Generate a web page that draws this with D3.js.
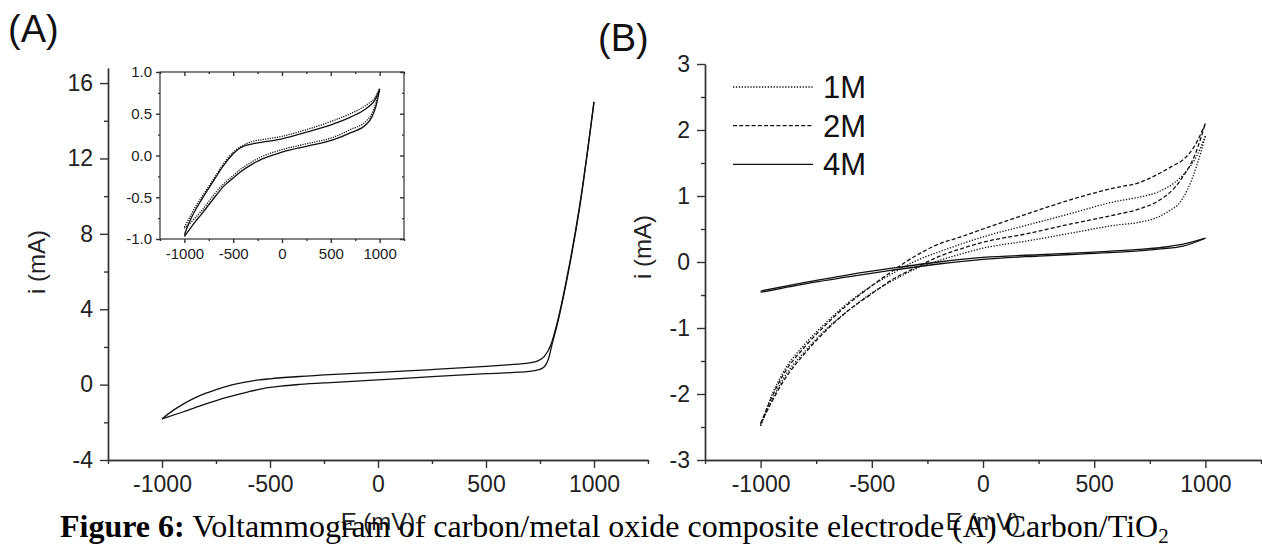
<!DOCTYPE html>
<html>
<head>
<meta charset="utf-8">
<script src="https://cdn.jsdelivr.net/npm/d3@7"></script>
<style>
body { margin: 0; background: #fff; }
svg { display: block; font-family: Arial, "Liberation Sans", sans-serif; }
.axis path, .axis line { stroke: #333; stroke-width: 1.4; }
.axis text { fill: #222; font-size: 23px; font-family: Arial, "Liberation Sans", sans-serif; }
.inset .axis text { font-size: 15px; }
.curve { fill: none; stroke: #111; stroke-width: 1.3; }
</style>
</head>
<body>
<script>
const w = 1262;
const h = 547;

// ---- data ----
// (A) carbon/TiO2, main plot, E in mV, i in mA
const carbonForward = [[-1000,-1.82],[-950,-1.38],[-900,-1.02],[-850,-0.72],[-800,-0.47],[-750,-0.27],[-700,-0.09],[-650,0.05],[-600,0.16],[-550,0.25],[-500,0.31],[-363,0.43],[-200,0.54],[0,0.65],[250,0.8],[500,0.97],[600,1.05],[700,1.15],[740,1.26],[770,1.5],[800,2.1],[830,3.3],[875,5.7],[935,9.6],[1000,15]];
const carbonReverse = [[-1000,-1.82],[-900,-1.44],[-800,-1.04],[-700,-0.68],[-600,-0.38],[-533,-0.21],[-450,-0.08],[-363,0.01],[-200,0.12],[0,0.25],[250,0.42],[500,0.58],[700,0.7],[740,0.78],[770,0.95],[790,1.4],[805,2.1],[830,3.2],[875,5.6],[935,9.5],[1000,15]];

// (A) inset, two cycles
const insetSolidUp = [[-1000,-0.95],[-950,-0.8],[-900,-0.68],[-830,-0.54],[-700,-0.3],[-600,-0.12],[-500,0.02],[-430,0.09],[-300,0.14],[-200,0.16],[0,0.2],[250,0.28],[530,0.38],[700,0.46],[870,0.57],[950,0.66],[1000,0.79]];
const insetSolidDown = [[-1000,-0.97],[-950,-0.89],[-900,-0.81],[-830,-0.71],[-670,-0.47],[-600,-0.37],[-500,-0.27],[-430,-0.2],[-300,-0.1],[-200,-0.04],[0,0.04],[250,0.11],[530,0.19],[700,0.27],[870,0.38],[920,0.46],[960,0.58],[1000,0.79]];
const insetDotUp = [[-1000,-0.86],[-950,-0.75],[-900,-0.64],[-830,-0.51],[-700,-0.28],[-600,-0.1],[-500,0.04],[-430,0.1],[-300,0.17],[-200,0.19],[0,0.23],[250,0.31],[530,0.42],[700,0.5],[870,0.61],[950,0.69],[1000,0.8]];
const insetDotDown = [[-1000,-0.87],[-950,-0.82],[-900,-0.76],[-830,-0.67],[-670,-0.43],[-600,-0.34],[-500,-0.24],[-430,-0.17],[-300,-0.07],[-200,-0.01],[0,0.07],[250,0.14],[530,0.22],[700,0.31],[870,0.42],[920,0.5],[960,0.62],[1000,0.8]];

// (B) three concentrations
const m1Up = [[-1000,-2.48],[-950,-2.02],[-900,-1.68],[-800,-1.24],[-700,-0.9],[-600,-0.6],[-500,-0.36],[-400,-0.16],[-300,0.02],[-200,0.15],[-100,0.27],[0,0.38],[200,0.56],[400,0.74],[600,0.92],[700,0.98],[800,1.08],[860,1.2],[920,1.4],[960,1.6],[1000,1.91]];
const m1Down = [[-1000,-2.48],[-950,-2.1],[-900,-1.78],[-800,-1.35],[-700,-1.0],[-600,-0.72],[-500,-0.47],[-400,-0.27],[-300,-0.1],[-200,0.02],[-100,0.12],[0,0.21],[200,0.32],[400,0.44],[600,0.56],[700,0.6],[800,0.7],[840,0.78],[880,0.88],[920,1.1],[960,1.45],[1000,1.91]];
const m2Up = [[-1000,-2.45],[-950,-2.05],[-900,-1.72],[-800,-1.28],[-700,-0.93],[-600,-0.62],[-500,-0.36],[-400,-0.12],[-300,0.1],[-200,0.27],[-100,0.38],[0,0.5],[200,0.73],[400,0.95],[600,1.13],[700,1.2],[780,1.32],[850,1.45],[900,1.55],[950,1.75],[1000,2.1]];
const m2Down = [[-1000,-2.45],[-950,-2.12],[-900,-1.82],[-800,-1.38],[-700,-1.02],[-600,-0.72],[-500,-0.48],[-400,-0.25],[-300,-0.08],[-200,0.08],[-100,0.2],[0,0.3],[200,0.43],[400,0.58],[600,0.72],[700,0.8],[800,0.95],[860,1.12],[900,1.3],[950,1.6],[1000,2.1]];
const m4Up = [[-1000,-0.44],[-800,-0.31],[-600,-0.19],[-400,-0.09],[-200,0.0],[0,0.07],[250,0.11],[500,0.15],[700,0.19],[800,0.22],[900,0.27],[1000,0.36]];
const m4Down = [[-1000,-0.46],[-800,-0.33],[-600,-0.22],[-400,-0.12],[-200,-0.03],[0,0.04],[250,0.09],[500,0.13],[700,0.17],[800,0.2],[900,0.24],[1000,0.36]];

const legendLabels = ["1M", "2M", "4M"];

// ticks
const xTicks = [-1000, -500, 0, 500, 1000];
const xMinor = [-1250, -750, -250, 250, 750, 1250];
const yTicksA = [-4, 0, 4, 8, 12, 16];
const yMinorA = [-2, 2, 6, 10, 14];
const yTicksInset = [-1, -0.5, 0, 0.5, 1];
const yMinorInset = [-0.75, -0.25, 0.25, 0.75];
const yTicksB = [-3, -2, -1, 0, 1, 2, 3];
const yMinorB = [-2.5, -1.5, -0.5, 0.5, 1.5, 2.5];

const svg = d3.select("body")
              .append("svg")
              .attr("width", w)
              .attr("height", h);

const line = (x, y) => d3.line()
    .x(d => x(d[0]))
    .y(d => y(d[1]))
    .curve(d3.curveMonotoneX);

function leftBottom(x, y, xT, xM, yT, yM, fmt) {
    const x0 = y.range()[0];
    const y0 = x.range()[0];
    svg.append("g").attr("class", "axis")
        .attr("transform", "translate(0," + x0 + ")")
        .call(d3.axisBottom(x).tickValues(xM).tickSize(4).tickSizeOuter(0).tickFormat(""));
    svg.append("g").attr("class", "axis")
        .attr("transform", "translate(0," + x0 + ")")
        .call(d3.axisBottom(x).tickValues(xT).tickSize(8).tickPadding(8).tickSizeOuter(0).tickFormat(d => String(d)));
    svg.append("g").attr("class", "axis")
        .attr("transform", "translate(" + y0 + ",0)")
        .call(d3.axisLeft(y).tickValues(yM).tickSize(4).tickSizeOuter(0).tickFormat(""));
    svg.append("g").attr("class", "axis")
        .attr("transform", "translate(" + y0 + ",0)")
        .call(d3.axisLeft(y).tickValues(yT).tickSize(8).tickPadding(7).tickSizeOuter(0).tickFormat(fmt));
}

// ================= (A) =================
const xA = d3.scaleLinear().domain([-1250, 1250]).range([108, 648]);
const yA = d3.scaleLinear().domain([-4, 16.8]).range([460, 68]);
leftBottom(xA, yA, xTicks, xMinor, yTicksA, yMinorA, d => String(d));

[carbonForward, carbonReverse].forEach(b => {
    svg.append("path").attr("class", "curve").attr("d", line(xA, yA)(b));
});

svg.append("text").attr("x", 8).attr("y", 42)
    .attr("font-size", 38).attr("fill", "#111").text("(A)");
svg.append("text").attr("transform", "translate(45,262) rotate(-90)")
    .attr("text-anchor", "middle").attr("font-size", 24).attr("fill", "#222").text("i (mA)");
svg.append("text").attr("x", (108 + 648) / 2).attr("y", 530)
    .attr("text-anchor", "middle").attr("font-size", 24).attr("fill", "#222").text("E (mV)");

// inset
const xI = d3.scaleLinear().domain([-1250, 1250]).range([160, 404]);
const yI = d3.scaleLinear().domain([-1, 1]).range([239, 72]);
const inset = svg.append("g").attr("class", "inset");
inset.append("rect").attr("x", 160).attr("y", 72).attr("width", 244).attr("height", 167)
    .attr("fill", "#fff").attr("stroke", "#333").attr("stroke-width", 1.2);
const insetAxes = [
    [d3.axisBottom(xI).tickValues(xTicks).tickSize(4).tickPadding(5).tickFormat(d => String(d)), "translate(0,239)"],
    [d3.axisBottom(xI).tickValues(xMinor).tickSize(2).tickFormat(""), "translate(0,239)"],
    [d3.axisTop(xI).tickValues(xTicks).tickSize(-4).tickFormat(""), "translate(0,72)"],
    [d3.axisTop(xI).tickValues(xMinor).tickSize(-2).tickFormat(""), "translate(0,72)"],
    [d3.axisLeft(yI).tickValues(yTicksInset).tickSize(4).tickPadding(4).tickFormat(d => d.toFixed(1)), "translate(160,0)"],
    [d3.axisLeft(yI).tickValues(yMinorInset).tickSize(2).tickFormat(""), "translate(160,0)"],
    [d3.axisRight(yI).tickValues(yTicksInset).tickSize(-4).tickFormat(""), "translate(404,0)"],
    [d3.axisRight(yI).tickValues(yMinorInset).tickSize(-2).tickFormat(""), "translate(404,0)"]
];
insetAxes.forEach(([ax, tr]) => {
    const g = inset.append("g").attr("class", "axis").attr("transform", tr).call(ax.tickSizeOuter(0));
    g.select(".domain").remove();
    g.selectAll("line").attr("stroke-width", 1);
});
[insetSolidUp, insetSolidDown].forEach(b => {
    inset.append("path").attr("class", "curve").attr("stroke-width", 1.1).attr("d", line(xI, yI)(b));
});
[insetDotUp, insetDotDown].forEach(b => {
    inset.append("path").attr("class", "curve").attr("stroke-width", 1.1)
        .attr("stroke", "#444").attr("stroke-dasharray", "1.2,1.2").attr("d", line(xI, yI)(b));
});

// ================= (B) =================
const xB = d3.scaleLinear().domain([-1250, 1250]).range([705, 1261]);
const yB = d3.scaleLinear().domain([-3, 3]).range([460, 64]);
leftBottom(xB, yB, xTicks, xMinor, yTicksB, yMinorB, d => String(d));

const styles = ["1.3,1.6", "4,2.2", null];
[[m1Up, m1Down], [m2Up, m2Down], [m4Up, m4Down]].forEach((pair, k) => {
    pair.forEach(b => {
        svg.append("path").attr("class", "curve")
            .attr("stroke-dasharray", styles[k])
            .attr("d", line(xB, yB)(b));
    });
});

const legend = svg.append("g");
legendLabels.forEach((lab, k) => {
    const ly = 87 + k * 38.7;
    legend.append("line").attr("x1", 733).attr("x2", 813).attr("y1", ly).attr("y2", ly)
        .attr("stroke", "#111").attr("stroke-width", 1.3).attr("stroke-dasharray", styles[k]);
    legend.append("text").attr("x", 823).attr("y", ly + 11)
        .attr("font-size", 31).attr("fill", "#111").text(lab);
});

svg.append("text").attr("x", 598).attr("y", 51)
    .attr("font-size", 38).attr("fill", "#111").text("(B)");
svg.append("text").attr("transform", "translate(651,247) rotate(-90)")
    .attr("text-anchor", "middle").attr("font-size", 24).attr("fill", "#222").text("i (mA)");
svg.append("text").attr("x", (705 + 1261) / 2).attr("y", 530)
    .attr("text-anchor", "middle").attr("font-size", 24).attr("fill", "#222").text("E (mV)");

// caption
const cap = svg.append("text").attr("x", 60).attr("y", 537)
    .attr("font-family", "'Liberation Serif','Times New Roman',serif")
    .attr("font-size", 32).attr("fill", "#000");
cap.append("tspan").attr("font-weight", "bold").text("Figure 6:");
cap.append("tspan").text(" Voltammogram of carbon/metal oxide composite electrode (A) Carbon/TiO");
cap.append("tspan").attr("font-size", 21).attr("dy", 6).text("2");
</script>
</body>
</html>
